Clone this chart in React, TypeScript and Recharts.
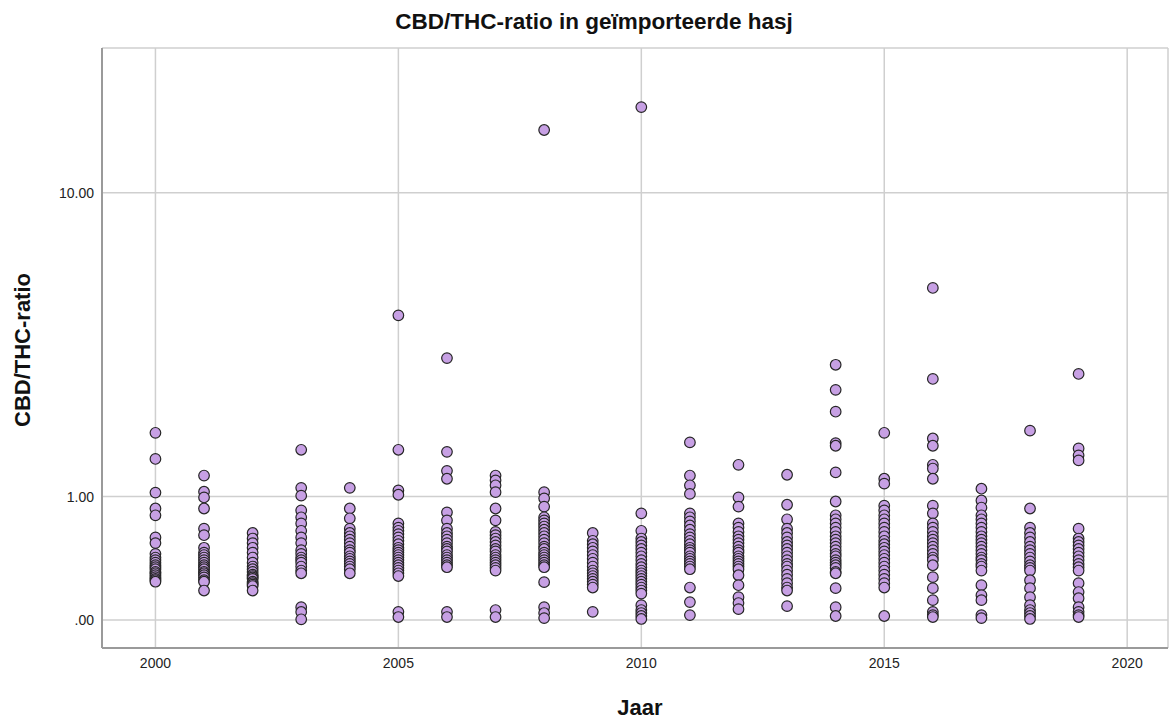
import { ScatterChart, Scatter, XAxis, YAxis, CartesianGrid } from "recharts";

// CBD/THC ratio per sample, per year
const y2000 = [1.86, 1.47, 1.045, 0.87, 0.8, 0.59, 0.54, 0.45, 0.42, 0.4, 0.38, 0.36, 0.345, 0.33, 0.31, 0.3, 0.286, 0.272, 0.26, 0.25, 0.24];
const y2001 = [1.25, 1.055, 0.99, 0.87, 0.67, 0.61, 0.5, 0.46, 0.44, 0.42, 0.4, 0.38, 0.36, 0.345, 0.33, 0.31, 0.3, 0.286, 0.27, 0.25, 0.24, 0.18];
const y2002 = [0.63, 0.58, 0.54, 0.5, 0.46, 0.42, 0.38, 0.35, 0.33, 0.31, 0.29, 0.28, 0.27, 0.26, 0.24, 0.23, 0.22, 0.21, 0.18];
const y2003 = [1.6, 1.1, 1.01, 0.85, 0.78, 0.72, 0.65, 0.59, 0.54, 0.48, 0.45, 0.42, 0.4, 0.38, 0.35, 0.32, 0.3, 0.075, 0.046, 0.004];
const y2004 = [1.1, 0.87, 0.77, 0.67, 0.63, 0.6, 0.57, 0.54, 0.51, 0.48, 0.46, 0.43, 0.41, 0.39, 0.37, 0.35, 0.33, 0.3];
const y2005 = [4.53, 1.6, 1.07, 1.02, 0.72, 0.68, 0.65, 0.62, 0.59, 0.56, 0.53, 0.5, 0.48, 0.46, 0.44, 0.42, 0.4, 0.38, 0.36, 0.34, 0.32, 0.3, 0.28, 0.047, 0.017];
const y2006 = [3.35, 1.57, 1.31, 1.21, 0.83, 0.75, 0.67, 0.63, 0.6, 0.57, 0.54, 0.51, 0.49, 0.47, 0.44, 0.42, 0.4, 0.38, 0.36, 0.345, 0.047, 0.017];
const y2007 = [1.25, 1.19, 1.13, 1.05, 0.87, 0.75, 0.64, 0.61, 0.58, 0.55, 0.52, 0.49, 0.47, 0.44, 0.42, 0.4, 0.38, 0.36, 0.34, 0.32, 0.0575, 0.017];
const y2008 = [14.65, 1.05, 0.98, 0.89, 0.78, 0.75, 0.72, 0.69, 0.66, 0.63, 0.6, 0.57, 0.54, 0.51, 0.49, 0.46, 0.44, 0.42, 0.4, 0.38, 0.36, 0.345, 0.237, 0.075, 0.04, 0.011];
const y2009 = [0.63, 0.56, 0.53, 0.5, 0.47, 0.44, 0.41, 0.38, 0.35, 0.32, 0.3, 0.28, 0.26, 0.24, 0.22, 0.2, 0.047];
const y2010 = [16.8, 0.82, 0.65, 0.58, 0.55, 0.52, 0.49, 0.46, 0.43, 0.4, 0.37, 0.345, 0.32, 0.3, 0.28, 0.26, 0.24, 0.22, 0.2, 0.18, 0.16, 0.087, 0.0575, 0.04, 0.023, 0.006];
const y2011 = [1.71, 1.25, 1.13, 1.03, 0.82, 0.78, 0.74, 0.7, 0.66, 0.62, 0.59, 0.56, 0.53, 0.5, 0.48, 0.46, 0.43, 0.41, 0.39, 0.37, 0.35, 0.33, 0.2, 0.106, 0.028];
const y2012 = [1.39, 0.99, 0.89, 0.72, 0.68, 0.64, 0.6, 0.57, 0.54, 0.51, 0.48, 0.46, 0.43, 0.41, 0.39, 0.37, 0.35, 0.33, 0.286, 0.216, 0.137, 0.1, 0.063];
const y2013 = [1.26, 0.91, 0.76, 0.67, 0.63, 0.59, 0.55, 0.52, 0.49, 0.46, 0.43, 0.4, 0.37, 0.35, 0.32, 0.29, 0.26, 0.23, 0.2, 0.18, 0.081];
const y2014 = [3.19, 2.64, 2.22, 1.7, 1.66, 1.29, 0.945, 0.8, 0.76, 0.72, 0.68, 0.64, 0.6, 0.57, 0.54, 0.51, 0.48, 0.45, 0.43, 0.4, 0.38, 0.36, 0.34, 0.31, 0.3, 0.196, 0.075, 0.023];
const y2015 = [1.86, 1.21, 1.15, 0.9, 0.85, 0.8, 0.76, 0.72, 0.68, 0.64, 0.6, 0.56, 0.53, 0.5, 0.47, 0.44, 0.41, 0.38, 0.35, 0.32, 0.29, 0.26, 0.23, 0.2, 0.023];
const y2016 = [5.45, 2.87, 1.77, 1.66, 1.39, 1.34, 1.21, 0.9, 0.82, 0.72, 0.68, 0.64, 0.6, 0.57, 0.54, 0.51, 0.48, 0.45, 0.42, 0.4, 0.36, 0.272, 0.196, 0.118, 0.047, 0.028, 0.017];
const y2017 = [1.09, 0.956, 0.88, 0.8, 0.76, 0.72, 0.68, 0.64, 0.6, 0.57, 0.54, 0.51, 0.48, 0.45, 0.42, 0.4, 0.37, 0.35, 0.32, 0.216, 0.15, 0.118, 0.028, 0.011];
const y2018 = [1.895, 0.87, 0.68, 0.63, 0.59, 0.55, 0.51, 0.48, 0.45, 0.42, 0.39, 0.36, 0.34, 0.32, 0.25, 0.196, 0.137, 0.087, 0.0575, 0.04, 0.023, 0.006];
const y2019 = [2.98, 1.62, 1.52, 1.45, 0.67, 0.58, 0.55, 0.52, 0.49, 0.46, 0.43, 0.4, 0.37, 0.345, 0.32, 0.23, 0.17, 0.13, 0.075, 0.047, 0.028, 0.017];

const years = [2000, 2001, 2002, 2003, 2004, 2005, 2006, 2007, 2008, 2009, 2010, 2011, 2012, 2013, 2014, 2015, 2016, 2017, 2018, 2019];
const perYear = [y2000, y2001, y2002, y2003, y2004, y2005, y2006, y2007, y2008, y2009, y2010, y2011, y2012, y2013, y2014, y2015, y2016, y2017, y2018, y2019];

const xTicks = [2000, 2005, 2010, 2015, 2020];
const yTicks = [0, 1, 10];

const points = years.flatMap((yr, i) => perYear[i].map((v) => ({ jaar: yr, ratio: v })));

const FONT = '"Liberation Sans", Arial, sans-serif';
const tickStyle = { fill: "#222", fontSize: 14, fontFamily: FONT };

const Dot = (p: any) => (
  <circle cx={p.cx} cy={p.cy} r={5.3} fill="#c7a0e4" stroke="#262626" strokeWidth={1.2} />
);

export default function App() {
  return (
    <div style={{ position: "absolute", left: 0, top: 0, width: 1169, height: 720, background: "#fff", fontFamily: FONT }}>
      <div
        style={{ position: "absolute", left: 594, top: 22, transform: "translate(-50%, -50%)", whiteSpace: "nowrap", fontSize: 22.5, fontWeight: "bold", color: "#111" }}
      >
        CBD/THC-ratio in geïmporteerde hasj
      </div>
      <div
        style={{
          position: "absolute",
          left: 23,
          top: 350,
          transform: "translate(-50%, -50%) rotate(-90deg)",
          whiteSpace: "nowrap",
          fontSize: 22,
          fontWeight: "bold",
          color: "#111",
        }}
      >
        CBD/THC-ratio
      </div>
      <div
        style={{ position: "absolute", left: 640, top: 708, transform: "translate(-50%, -50%)", fontSize: 22, fontWeight: "bold", color: "#111" }}
      >
        Jaar
      </div>
      <ScatterChart width={1169} height={720} margin={{ top: 48, right: 1, bottom: 42, left: 42 }}>
        <CartesianGrid stroke="#cfcfcf" strokeWidth={1.5} />
        <XAxis
          type="number"
          dataKey="jaar"
          domain={[1998.9, 2020.84]}
          ticks={xTicks}
          allowDataOverflow
          height={30}
          tickLine={false}
          tickSize={8}
          tickMargin={2}
          tick={tickStyle}
          axisLine={{ stroke: "#9a9a9a", strokeWidth: 2 }}
        />
        <YAxis
          type="number"
          dataKey="ratio"
          scale="symlog"
          domain={[-0.17, 23.8]}
          ticks={yTicks}
          allowDataOverflow
          width={60}
          tickLine={false}
          tickSize={8}
          tickMargin={0}
          tick={tickStyle}
          tickFormatter={(v: number) => (v === 0 ? ".00" : v.toFixed(2))}
          axisLine={{ stroke: "#9a9a9a", strokeWidth: 2 }}
        />
        <Scatter data={points} shape={Dot} isAnimationActive={false} />
      </ScatterChart>
    </div>
  );
}
